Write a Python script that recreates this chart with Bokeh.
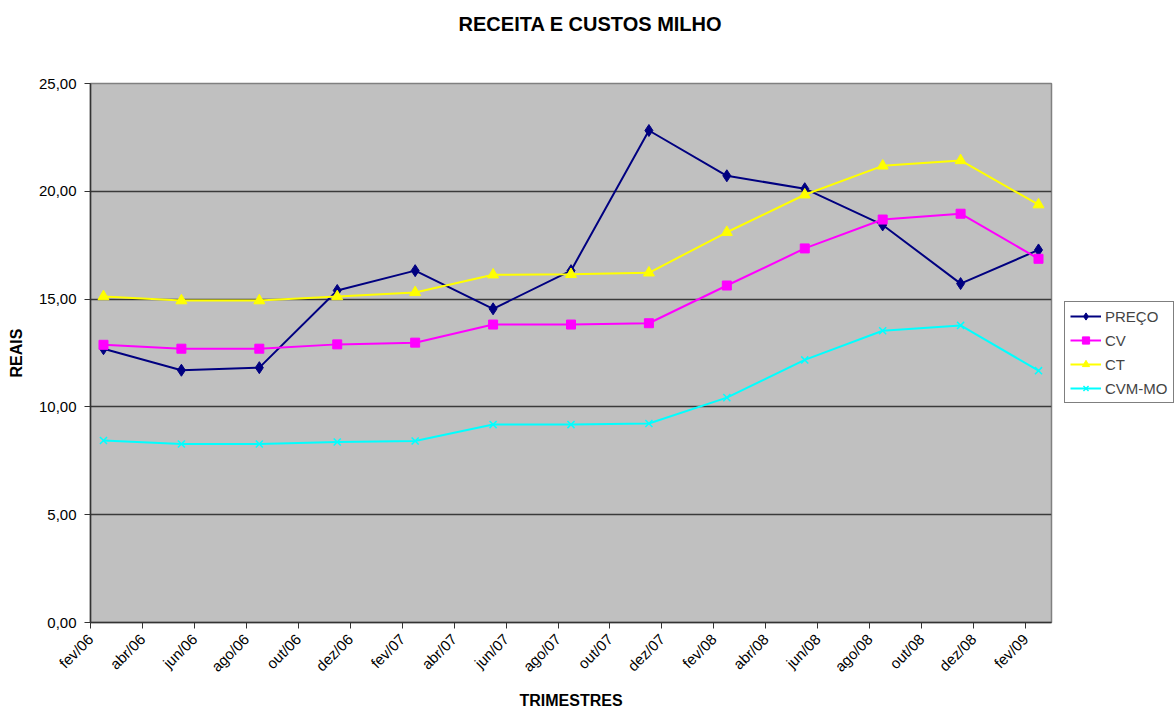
from bokeh.plotting import figure
from bokeh.models import FixedTicker, Legend, LegendItem, Title, Range1d
from bokeh.layouts import row
from bokeh.embed import file_html
from bokeh.resources import INLINE
import math

# ---- data ----
periodos = ["fev/06", "mai/06", "ago/06", "nov/06", "fev/07", "mai/07", "ago/07",
            "nov/07", "fev/08", "mai/08", "ago/08", "nov/08", "fev/09"]
preco = [12.70, 11.70, 11.82, 15.40, 16.32, 14.55, 16.32, 22.82, 20.72, 20.12, 18.44, 15.72, 17.28]
cv = [12.88, 12.70, 12.70, 12.90, 12.98, 13.82, 13.82, 13.88, 15.63, 17.35, 18.69, 18.96, 16.87]
ct = [15.12, 14.93, 14.93, 15.12, 15.31, 16.13, 16.15, 16.22, 18.10, 19.84, 21.18, 21.43, 19.38]
cvm_mo = [8.44, 8.28, 8.28, 8.37, 8.42, 9.18, 9.18, 9.23, 10.43, 12.18, 13.53, 13.78, 11.68]
tick_labels = ["fev/06", "abr/06", "jun/06", "ago/06", "out/06", "dez/06", "fev/07",
               "abr/07", "jun/07", "ago/07", "out/07", "dez/07", "fev/08", "abr/08",
               "jun/08", "ago/08", "out/08", "dez/08", "fev/09"]
y_ticks = [0, 5, 10, 15, 20, 25]
y_labels = ["0,00", "5,00", "10,00", "15,00", "20,00", "25,00"]

meses = ["jan", "fev", "mar", "abr", "mai", "jun", "jul", "ago", "set", "out", "nov", "dez"]

def month_index(s):
    m, y = s.split("/")
    return (int(y) - 6) * 12 + meses.index(m) - 1  # fev/06 -> 0

xs = [month_index(s) + 0.5 for s in periodos]
tick_pos = [month_index(s) for s in tick_labels]

FONT = "Liberation Sans"

p = figure(width=1064, height=711, output_backend="svg", toolbar_location=None,
           x_range=Range1d(0, 37), y_range=Range1d(0, 25),
           min_border_left=90, min_border_right=13, min_border_top=83, min_border_bottom=89,
           border_fill_color="white")
p.background_fill_color = "#C0C0C0"
p.outline_line_color = "#808080"
p.outline_line_width = 1.5

# spacer next to the frame, then the real title further out
spacer = Title(text=" ", align="center", text_font=FONT, text_font_size="20px",
               standoff=25, text_color="white")
p.add_layout(spacer, "above")
title = Title(text="\u00a0" * 7 + "RECEITA E CUSTOS MILHO", align="center", text_font=FONT,
              text_font_size="20px", text_font_style="bold", text_color="black",
              standoff=0)
p.add_layout(title, "above")

# axes
p.xaxis.ticker = FixedTicker(ticks=tick_pos)
p.xaxis.major_label_overrides = {t: l for t, l in zip(tick_pos, tick_labels)}
p.xaxis.major_label_orientation = math.pi / 4
p.yaxis.ticker = FixedTicker(ticks=y_ticks)
p.yaxis.major_label_overrides = {t: l for t, l in zip(y_ticks, y_labels)}
for ax in (p.xaxis, p.yaxis):
    ax.axis_line_color = "#333333"
    ax.axis_line_width = 1.5
    ax.major_tick_line_color = "#333333"
    ax.major_tick_out = 6
    ax.major_tick_in = 0
    ax.minor_tick_line_color = None
    ax.major_label_text_font = FONT
    ax.major_label_text_font_size = "15px"
    ax.major_label_text_color = "black"
    ax.axis_label_text_font = FONT
    ax.axis_label_text_font_size = "16px"
    ax.axis_label_text_font_style = "bold"
    ax.axis_label_text_color = "black"
p.xaxis.axis_label = "TRIMESTRES"
p.yaxis.axis_label = "REAIS"
p.xaxis.major_label_standoff = 8
p.xaxis.axis_label_standoff = 8
p.yaxis.major_label_standoff = 8
p.yaxis.axis_label_standoff = 11

p.xgrid.grid_line_color = None
p.ygrid.grid_line_color = "#3a3a3a"
p.ygrid.grid_line_width = 1.4

series = [
    ("PREÇO", preco, "#000080", "diamond", 12),
    ("CV", cv, "#FF00FF", "square", 9),
    ("CT", ct, "#FFFF00", "triangle", 11),
    ("CVM-MO", cvm_mo, "#00FFFF", "x", 10),
]
for name, vals, color, marker, size in series:
    p.line(xs, vals, line_color=color, line_width=2)
    p.scatter(xs, vals, marker=marker, size=size, fill_color=color,
              line_color=color, line_width=1.5 if marker == "x" else 1)

# legend panel (separate narrow figure to the right of the plot area);
# its ranges keep the series themselves out of view, only the legend shows
lg = figure(width=110, height=711, output_backend="svg", toolbar_location=None,
            x_range=Range1d(1000, 1001), y_range=Range1d(1000, 1001),
            min_border_left=0, min_border_right=0, min_border_top=0, min_border_bottom=0,
            x_axis_location=None, y_axis_location=None)
lg.outline_line_color = None
lg.background_fill_color = "white"
lg.border_fill_color = "white"
lg.xgrid.grid_line_color = None
lg.ygrid.grid_line_color = None
items = []
for name, vals, color, marker, size in series:
    r1 = lg.line(xs, vals, line_color=color, line_width=2)
    r2 = lg.scatter(xs, vals, marker=marker, size=size, fill_color=color,
                    line_color=color, line_width=1.5 if marker == "x" else 1)
    items.append(LegendItem(label=name, renderers=[r1, r2]))

legend = Legend(items=items, location=(0, 219), orientation="vertical",
                border_line_color="black", border_line_width=1,
                background_fill_color="white", background_fill_alpha=1.0,
                label_text_font=FONT, label_text_font_size="15px",
                glyph_width=31, glyph_height=18, label_height=18,
                label_standoff=4, spacing=6, padding=5, margin=0)
lg.add_layout(legend, "center")

layout = row(p, lg, spacing=0)
open("out.html", "w").write(file_html(layout, INLINE))
